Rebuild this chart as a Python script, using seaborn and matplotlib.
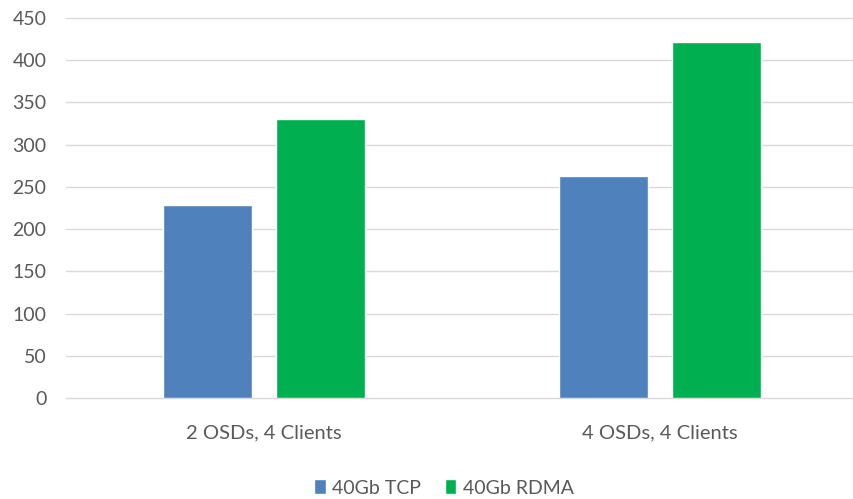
import matplotlib
matplotlib.use("Agg")
import matplotlib.pyplot as plt
import seaborn as sns
import pandas as pd

# Throughput per configuration
categories = ["2 OSDs, 4 Clients", "4 OSDs, 4 Clients"]
series_names = ["40Gb TCP", "40Gb RDMA"]
tcp_values = [229, 263]
rdma_values = [330, 421]
y_ticks = [0, 50, 100, 150, 200, 250, 300, 350, 400, 450]

colors = ["#4F81BD", "#00B050"]
text_color = "#595959"

df = pd.DataFrame({
    "config": categories * 2,
    "series": [series_names[0]] * 2 + [series_names[1]] * 2,
    "value": tcp_values + rdma_values,
})

sns.set_theme(style="white")
plt.rcParams["font.family"] = ["Lato", "DejaVu Sans"]

fig = plt.figure(figsize=(8.54, 4.99), dpi=100)
ax = fig.add_axes([66 / 854, 1 - 398 / 499, 792 / 854, 380 / 499])

sns.barplot(data=df, x="config", y="value", hue="series", order=categories,
            hue_order=series_names, palette=colors, width=0.57, gap=0.21,
            saturation=1, ax=ax, legend=True, errorbar=None, zorder=3)

ax.set_xlim(-0.5, 1.5)
ax.set_ylim(0, 450)
ax.set_yticks(y_ticks)
ax.set_yticklabels([str(t) for t in y_ticks])
ax.yaxis.grid(True, color="#D9D9D9", linewidth=1.0, zorder=0)
for gl in ax.get_ygridlines():
    gl.set_clip_on(False)
ax.set_axisbelow(True)
for side in ["top", "right", "left", "bottom"]:
    ax.spines[side].set_visible(False)
ax.set_xlabel("")
ax.set_ylabel("")
ax.tick_params(axis="y", length=0, pad=14, labelsize=14, labelcolor=text_color)
ax.tick_params(axis="x", length=0, pad=19, labelsize=14.5, labelcolor=text_color)
for lbl in ax.get_yticklabels():
    lbl.set_horizontalalignment("right")

handles, labels = ax.get_legend_handles_labels()
ax.legend_.remove()
fig.legend(handles, labels, loc="center", bbox_to_anchor=(0.52, 1 - 488 / 499),
           ncol=2, frameon=False, fontsize=14, labelcolor=text_color,
           handlelength=0.6, handleheight=0.8, handletextpad=0.35,
           columnspacing=1.2)

fig.savefig("out.png", dpi=100)
